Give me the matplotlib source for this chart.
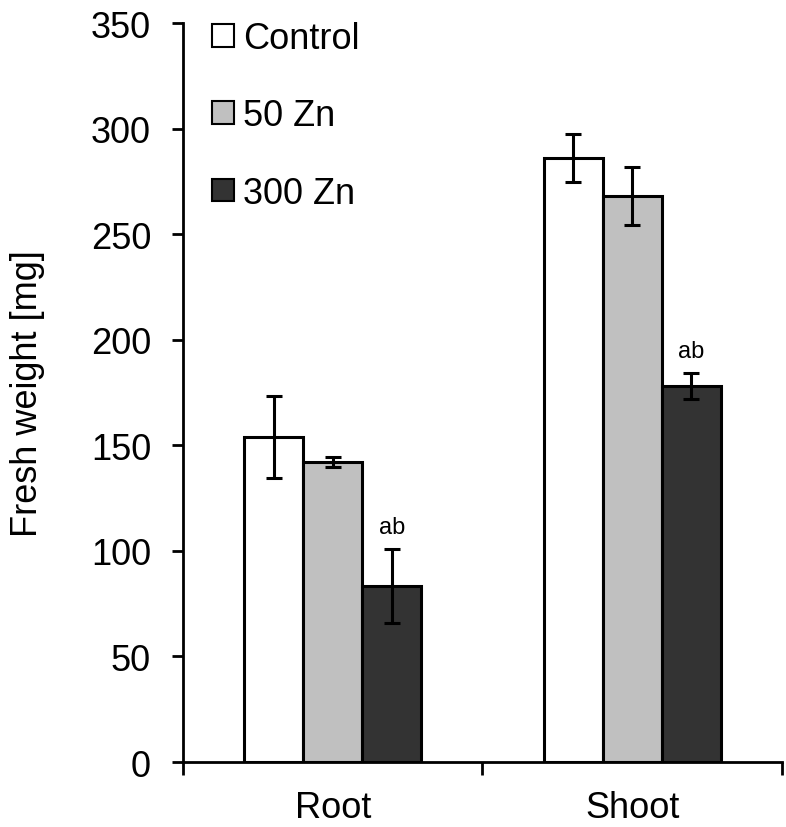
import numpy as np
import matplotlib
matplotlib.use('Agg')
import matplotlib.pyplot as plt
from matplotlib.patches import Patch

plt.rcParams['font.family'] = ['Liberation Sans', 'DejaVu Sans']

tissues = ['Root', 'Shoot']
treatments = ['Control', '50 Zn', '300 Zn']
colors = ['#ffffff', '#c0c0c0', '#333333']

means = {
    'Control': [154, 286],
    '50 Zn': [142, 268],
    '300 Zn': [83.5, 178],
}
errs = {
    'Control': [19.5, 11.5],
    '50 Zn': [2.3, 13.6],
    '300 Zn': [17.5, 6.3],
}
sig_labels = ['ab', 'ab']

fig = plt.figure(figsize=(7.86, 8.28), dpi=100)
ax = fig.add_axes([0.2328, 0.0785, 0.762, 0.8925])

x = np.arange(len(tissues))
width = 0.197
for i, t in enumerate(treatments):
    pos = x + (i - 1) * width
    ax.bar(pos, means[t], width, color=colors[i], edgecolor='black', linewidth=2.2,
           yerr=errs[t], capsize=6,
           error_kw=dict(elinewidth=2.2, capthick=2.2, ecolor='black'),
           label=t, zorder=2)

# significance letters above 300 Zn bars
for j in range(len(tissues)):
    top = means['300 Zn'][j] + errs['300 Zn'][j]
    ax.text(x[j] + width, top + 5, sig_labels[j], ha='center', va='bottom', fontsize=17)

ax.set_xlim(-0.5, 1.5)
ax.set_ylim(0, 350)
ax.set_yticks(np.arange(0, 351, 50))
ax.tick_params(axis='y', labelsize=26, length=8, width=2, direction='out', pad=15)

ax.set_xticks([-0.5, 0.5, 1.5])
ax.set_xticklabels(['', '', ''])
ax.set_xticks(x, minor=True)
ax.set_xticklabels(tissues, minor=True)
ax.tick_params(axis='x', which='major', length=9, width=2, direction='out')
ax.tick_params(axis='x', which='minor', length=0, labelsize=26, pad=20)

for s in ['top', 'right']:
    ax.spines[s].set_visible(False)
for s in ['left', 'bottom']:
    ax.spines[s].set_linewidth(2)

ax.set_ylabel('Fresh weight [mg]', fontsize=26)
ax.yaxis.set_label_coords(-0.23, 0.5)

handles = [Patch(facecolor=colors[i], edgecolor='black', linewidth=1.5) for i in range(3)]
ax.legend(handles, treatments, loc='upper left', bbox_to_anchor=(0.025, 1.022),
          frameon=False, fontsize=26, handlelength=0.6, handleheight=0.6,
          handletextpad=0.25, labelspacing=1.17, borderaxespad=0)

fig.savefig('out.png', dpi=100)
